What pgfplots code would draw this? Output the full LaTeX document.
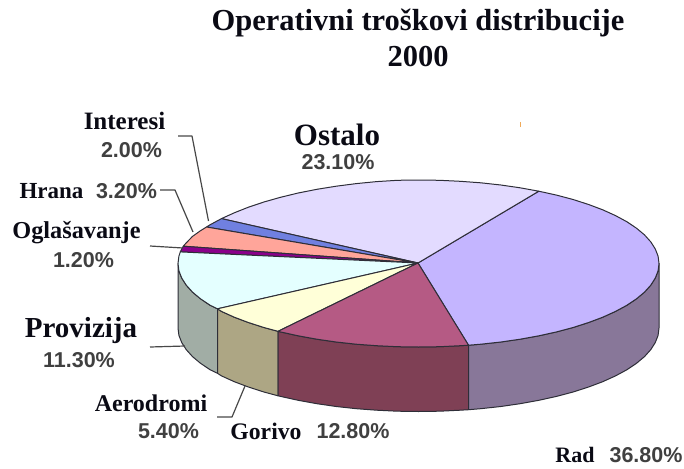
\documentclass[border=0pt]{standalone}
\usepackage{pgfplots}
\usepackage{fontspec}
\setmainfont{Liberation Serif}
\newfontfamily\pct{Liberation Sans}
\pgfplotsset{compat=1.18}
\definecolor{edge}{HTML}{2E2E38}
\definecolor{txt}{HTML}{0A0A14}
\definecolor{num}{HTML}{404040}
\definecolor{lead}{HTML}{484848}
\newcommand{\lab}[2]{{\fontsize{#1}{#1}\selectfont\bfseries\color{txt}#2}}
\newcommand{\val}[1]{{\fontsize{21.5}{22}\selectfont\pct\bfseries\color{num}#1}}
\begin{document}
\begin{tikzpicture}
\useasboundingbox (0,0) rectangle (684pt,468pt);
\begin{axis}[at={(0,0)},anchor=south west,scale only axis,width=684pt,height=468pt,
 xmin=0,xmax=684,ymin=0,ymax=468,y dir=reverse,hide axis,clip=false,
 every axis plot/.append style={line width=1pt,draw=edge,line join=round}]
% front wall
\addplot[fill={rgb,255:red,161;green,173;blue,165}] coordinates {(178,263.5)(178.9,270.8)(181.7,278)(186.2,285.1)(192.5,292.1)(200.5,298.8)(210.2,305.3)(217.5,308.8)(217.5,373.3)(210.2,369.8)(200.5,363.3)(192.5,356.6)(186.2,349.6)(181.7,342.5)(178.9,335.3)(178,328)} --cycle;
\addplot[fill={rgb,255:red,173;green,166;blue,132}] coordinates {(217.5,308.8)(221.5,311.4)(234.3,317.2)(248.4,322.5)(263.9,327.5)(278,331.3)(278,395.8)(263.9,392)(248.4,387)(234.3,381.7)(221.5,375.9)(217.5,373.3)} --cycle;
\addplot[fill={rgb,255:red,127;green,64;blue,85}] coordinates {(278,331.3)(280.5,331.9)(298.2,335.8)(316.9,339.2)(336.2,342)(356.3,344.2)(376.7,345.7)(397.5,346.7)(418.5,347)(439.5,346.7)(460.3,345.7)(468.5,345.2)(468.5,409.7)(460.3,410.2)(439.5,411.2)(418.5,411.5)(397.5,411.2)(376.7,410.2)(356.3,408.7)(336.2,406.5)(316.9,403.7)(298.2,400.3)(280.5,396.4)(278,395.8)} --cycle;
\addplot[fill={rgb,255:red,136;green,119;blue,153}] coordinates {(468.5,345.2)(480.7,344.2)(500.8,342)(520.1,339.2)(538.8,335.8)(556.5,331.9)(573.1,327.5)(588.6,322.5)(602.7,317.2)(615.5,311.4)(626.8,305.3)(636.5,298.8)(644.5,292.1)(650.8,285.1)(655.3,278)(658.1,270.8)(659,263.5)(659,328)(658.1,335.3)(655.3,342.5)(650.8,349.6)(644.5,356.6)(636.5,363.3)(626.8,369.8)(615.5,375.9)(602.7,381.7)(588.6,387)(573.1,392)(556.5,396.4)(538.8,400.3)(520.1,403.7)(500.8,406.5)(480.7,408.7)(468.5,409.7)} --cycle;
% top face
% Rad 36.80
\addplot[fill={rgb,255:red,196;green,181;blue,255}] coordinates {(418,263)(468.5,345.2)(480.7,344.2)(500.8,342)(520.1,339.2)(538.8,335.8)(556.5,331.9)(573.1,327.5)(588.6,322.5)(602.7,317.2)(615.5,311.4)(626.8,305.3)(636.5,298.8)(644.5,292.1)(650.8,285.1)(655.3,278)(658.1,270.8)(659,263.5)(658.1,256.2)(655.3,249)(650.8,241.9)(644.5,234.9)(636.5,228.2)(626.8,221.7)(615.5,215.6)(602.7,209.8)(588.6,204.5)(573.1,199.5)(556.5,195.1)(538.8,191.2)} --cycle;
% Ostalo 23.10
\addplot[fill={rgb,255:red,227;green,219;blue,255}] coordinates {(418,263)(538.8,191.2)(520.1,187.8)(500.8,185)(480.7,182.8)(460.3,181.3)(439.5,180.3)(418.5,180)(397.5,180.3)(376.7,181.6)(356.3,183.6)(336.2,186.2)(316.9,189.3)(298.2,193)(280.5,197.3)(263.9,202)(248.4,207.2)(234.3,212.8)(221.5,218.6)} --cycle;
% Interesi 2.00
\addplot[fill={rgb,255:red,112;green,128;blue,224}] coordinates {(418,263)(221.5,218.6)(210.2,224.7)(206.5,227)} --cycle;
% Hrana 3.20
\addplot[fill={rgb,255:red,255;green,165;blue,154}] coordinates {(418,263)(206.5,227)(200.5,230.7)(192.5,236.4)(186.2,242.9)(183.3,246.2)} --cycle;
% Oglasavanje 1.20
\addplot[fill={rgb,255:red,139;green,0;blue,139}] coordinates {(418,263)(183.3,246.2)(181.7,249)(180.3,251.9)} --cycle;
% Provizija 11.30
\addplot[fill={rgb,255:red,228;green,255;blue,255}] coordinates {(418,263)(180.3,251.9)(178.9,256.2)(178,263.5)(178.9,270.8)(181.7,278)(186.2,285.1)(192.5,292.1)(200.5,298.8)(210.2,305.3)(217.5,308.8)} --cycle;
% Aerodromi 5.40
\addplot[fill={rgb,255:red,255;green,255;blue,216}] coordinates {(418,263)(217.5,308.8)(221.5,311.4)(234.3,317.2)(248.4,322.5)(263.9,327.5)(278,331.3)} --cycle;
% Gorivo 12.80
\addplot[fill={rgb,255:red,181;green,90;blue,132}] coordinates {(418,263)(278,331.3)(280.5,331.9)(298.2,335.8)(316.9,339.2)(336.2,342)(356.3,344.2)(376.7,345.7)(397.5,346.7)(418.5,347)(439.5,346.7)(460.3,345.7)(468.5,345.2)} --cycle;
% leaders
\addplot[draw=lead,line width=1.2pt] coordinates {(178,136)(192,136)(208.5,221)};
\addplot[draw=lead,line width=1.2pt] coordinates {(160,190)(175,190)(193,232)};
\addplot[draw=lead,line width=1.2pt] coordinates {(150,246)(183,248)};
\addplot[draw=lead,line width=1.2pt] coordinates {(150,347)(185,346)};
\addplot[draw=lead,line width=1.2pt] coordinates {(217,417)(232,417)(245,386)};
\addplot[draw={rgb,255:red,240;green,170;blue,90},line width=0.9pt] coordinates {(520,122)(520,127)};
% text
\node at (axis cs:418,23) {\lab{30.5}{Operativni troškovi distribucije}};
\node at (axis cs:418,57) {\lab{30.5}{2000}};
\node at (axis cs:337,135) {\lab{31}{Ostalo}};
\node at (axis cs:338,162) {\val{23.10\%}};
\node at (axis cs:124.5,121) {\lab{25}{Interesi}};
\node at (axis cs:131.5,150) {\val{2.00\%}};
\node at (axis cs:51.5,191) {\lab{23}{Hrana}};
\node at (axis cs:126.5,191) {\val{3.20\%}};
\node at (axis cs:76.5,233) {\lab{24.3}{Oglašavanje}};
\node at (axis cs:83.5,260) {\val{1.20\%}};
\node at (axis cs:81,331) {\lab{29}{Provizija}};
\node at (axis cs:79,360) {\val{11.30\%}};
\node at (axis cs:151,403) {\lab{24}{Aerodromi}};
\node at (axis cs:168.5,431) {\val{5.40\%}};
\node at (axis cs:266,431) {\lab{23.7}{Gorivo}};
\node at (axis cs:353,431) {\val{12.80\%}};
\node at (axis cs:575,455) {\lab{22}{Rad}};
\node at (axis cs:646,455) {\val{36.80\%}};
\end{axis}
\end{tikzpicture}
\end{document}
